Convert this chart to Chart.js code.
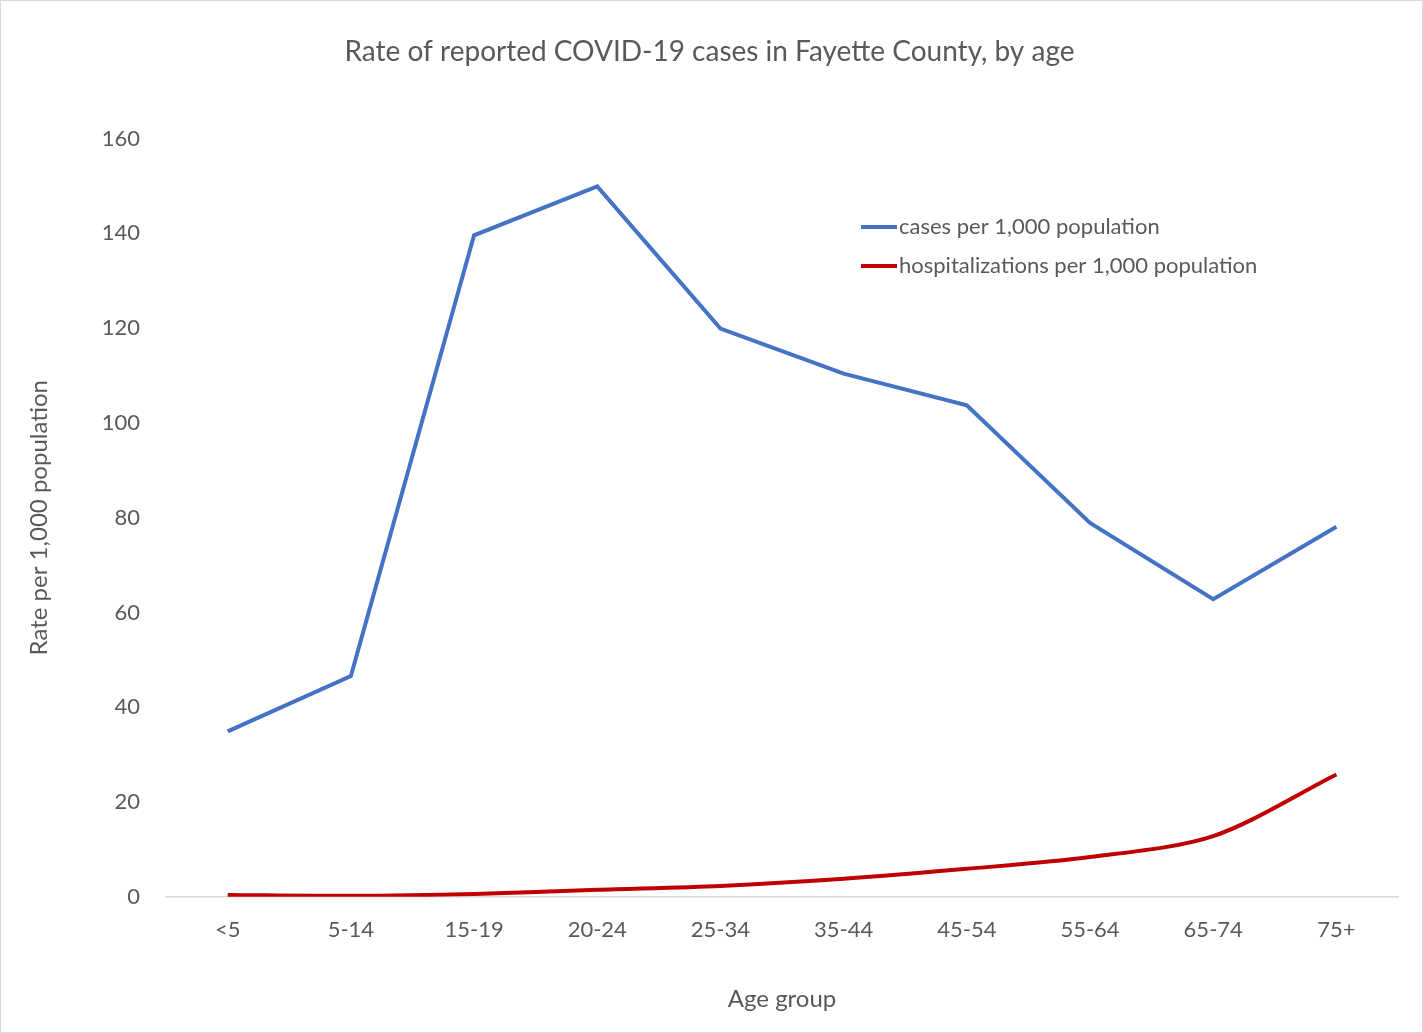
<!DOCTYPE html>
<html><head><meta charset="utf-8">
<script src="https://cdn.jsdelivr.net/npm/chart.js@4"></script>
<style>
html,body{margin:0;padding:0;background:#fff;}
#wrap{position:absolute;left:0;top:0;width:1421px;height:1031px;border:1px solid #d9d9d9;}
canvas{display:block;}
</style></head><body>
<div id="wrap"><canvas id="c" width="1421" height="1031"></canvas></div>
<script>
const categories = ["<5","5-14","15-19","20-24","25-34","35-44","45-54","55-64","65-74","75+"];
const cases = [34.9,46.6,139.6,149.9,119.9,110.4,103.7,78.9,62.8,78.1];
const hospitalizations = [0.4,0.2,0.6,1.5,2.3,3.8,5.9,8.4,12.8,25.8];
const yTicks = [0,20,40,60,80,100,120,140,160];

const FONT = "Lato, 'Open Sans', sans-serif";
const GREY = "#595959";

const insideLegend = {
  id:'insideLegend',
  afterDraw(chart){
    const ctx = chart.ctx;
    ctx.save();
    ctx.font = "22px " + FONT;
    ctx.textBaseline = 'middle';
    chart.data.datasets.forEach((ds,i)=>{
      const y = 226 + i*39;
      ctx.strokeStyle = ds.borderColor; ctx.lineWidth = 4;
      ctx.beginPath(); ctx.moveTo(860,y); ctx.lineTo(896,y); ctx.stroke();
      ctx.fillStyle = GREY; ctx.fillText(ds.label, 898, y);
    });
    ctx.restore();
  }
};

new Chart(document.getElementById('c'), {
  type:'line',
  data:{labels:categories, datasets:[
    {label:'cases per 1,000 population', data:cases, borderColor:'#4472c4', borderWidth:4, pointRadius:0, tension:0, fill:false},
    {label:'hospitalizations per 1,000 population', data:hospitalizations, borderColor:'#c00000', borderWidth:4, pointRadius:0, tension:0.3, fill:false}
  ]},
  options:{
    responsive:false, animation:false, devicePixelRatio:1,
    layout:{padding:{left:20,right:24,top:34,bottom:14}},
    plugins:{
      legend:{display:false}, tooltip:{enabled:false},
      title:{display:true, text:'Rate of reported COVID-19 cases in Fayette County, by age', color:GREY, font:{family:FONT,size:28,weight:'normal'}, padding:{top:0,bottom:70}}
    },
    scales:{
      x:{offset:true, grid:{display:false, drawTicks:false}, border:{color:'#d9d9d9',width:1.5},
        ticks:{color:GREY,font:{family:FONT,size:22},padding:20},
        title:{display:true,text:'Age group',color:GREY,font:{family:FONT,size:24},padding:{top:22}}},
      y:{min:0,max:160, afterBuildTicks(s){s.ticks=yTicks.map(v=>({value:v}));}, grid:{display:false,drawTicks:false}, border:{display:false},
        ticks:{color:GREY,font:{family:FONT,size:22},padding:26},
        title:{display:true,text:'Rate per 1,000 population',color:GREY,font:{family:FONT,size:24},padding:{bottom:22}}}
    }
  },
  plugins:[insideLegend]
});
</script>
</body></html>
